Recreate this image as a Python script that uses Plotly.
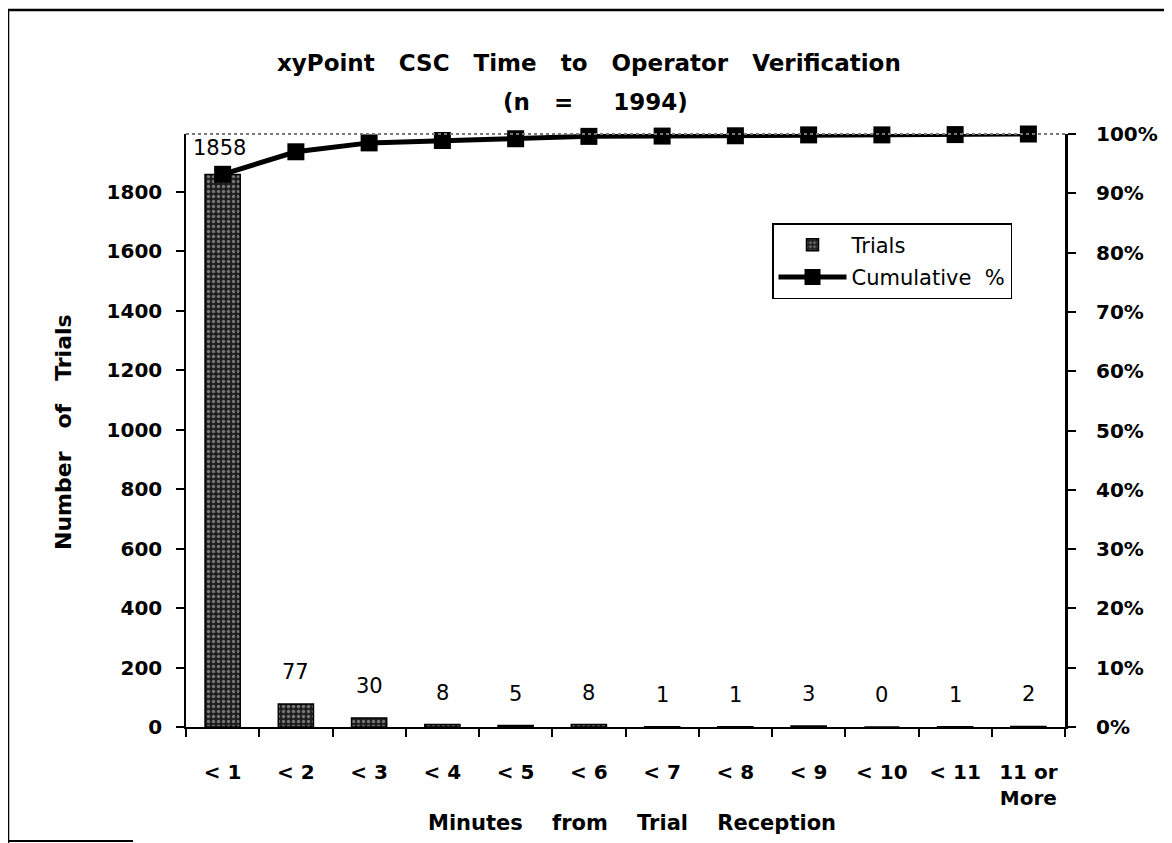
import plotly.graph_objects as go

# chart data
categories = ["< 1", "< 2", "< 3", "< 4", "< 5", "< 6", "< 7", "< 8", "< 9", "< 10", "< 11", "11 or<br>More"]
trials = [1858, 77, 30, 8, 5, 8, 1, 1, 3, 0, 1, 2]
cumulative_pct = [93.2, 97.0, 98.5, 98.9, 99.2, 99.6, 99.65, 99.7, 99.85, 99.85, 99.9, 100.0]
n_total = 1994
left_ticks = [0, 200, 400, 600, 800, 1000, 1200, 1400, 1600, 1800]
right_ticks = [0, 10, 20, 30, 40, 50, 60, 70, 80, 90, 100]

# page is 1172x843, the html body adds an 8px margin
OFF = 8
W, H = 1172 - OFF, 843 - OFF
# plot area in page pixels
L, R, T, B = 186, 1065, 134, 727
FONT = "DejaVu Sans, Verdana, sans-serif"
SP = "\u00a0"


def px_x(px):
    return (px - L) / (R - L)


def px_y(py):
    return (B - py) / (B - T)


def spaced(words, n):
    return (SP * n).join(words)


fig = go.Figure()

fig.add_trace(go.Bar(
    x=categories, y=trials, name="Trials", legendgroup="a",
    marker=dict(
        color="#444444",
        line=dict(color="black", width=1.5),
        pattern=dict(shape=".", bgcolor="#1e1e1e", fgcolor="#cfcfcf", size=5, solidity=0.35),
    ),
    yaxis="y",
))

fig.add_trace(go.Scatter(
    x=categories, y=cumulative_pct, name="Cumulative" + SP * 2 + "%", legendgroup="b",
    mode="lines+markers",
    line=dict(color="black", width=5),
    marker=dict(symbol="square", size=17, color="black"),
    cliponaxis=False,
    yaxis="y2",
))

annotations = []
# value labels above the bars
for i, (c, v) in enumerate(zip(categories, trials)):
    annotations.append(dict(
        x=c, y=v, xref="x", yref="y", text=str(v), showarrow=False,
        yanchor="middle", yshift=26 if i == 0 else 32, xshift=-3 if i == 0 else 0,
        font=dict(family=FONT, size=21, color="black"),
    ))

# title, two lines
annotations.append(dict(
    x=px_x(589), y=px_y(63), xref="paper", yref="paper", showarrow=False,
    xanchor="center", yanchor="middle",
    text="<b>" + spaced(["xyPoint", "CSC", "Time", "to", "Operator", "Verification"], 3) + "</b>",
    font=dict(family=FONT, size=23, color="black"),
))
annotations.append(dict(
    x=px_x(595), y=px_y(102), xref="paper", yref="paper", showarrow=False,
    xanchor="center", yanchor="middle",
    text="<b>(n" + SP * 3 + "=" + SP * 5 + str(n_total) + ")</b>",
    font=dict(family=FONT, size=23, color="black"),
))
# axis titles
annotations.append(dict(
    x=px_x(632), y=px_y(823), xref="paper", yref="paper", showarrow=False,
    xanchor="center", yanchor="middle",
    text="<b>" + spaced(["Minutes", "from", "Trial", "Reception"], 4) + "</b>",
    font=dict(family=FONT, size=21, color="black"),
))
annotations.append(dict(
    x=px_x(63), y=px_y(432), xref="paper", yref="paper", showarrow=False,
    xanchor="center", yanchor="middle",
    text="<b>" + spaced(["Number", "of", "Trials"], 3) + "</b>", textangle=-90,
    font=dict(family=FONT, size=22, color="black"),
))

shapes = [
    # dotted top edge of the plot area
    dict(type="line", xref="paper", yref="paper", x0=0, x1=1, y0=1, y1=1,
         line=dict(color="#777777", width=2, dash="dot")),
    # outer frame (partly cropped in the original)
    dict(type="line", xref="paper", yref="paper", x0=px_x(8), x1=px_x(1180), y0=px_y(10), y1=px_y(10),
         line=dict(color="black", width=2.5)),
    dict(type="line", xref="paper", yref="paper", x0=px_x(8), x1=px_x(8), y0=px_y(10), y1=px_y(850),
         line=dict(color="black", width=2.5)),
    dict(type="line", xref="paper", yref="paper", x0=px_x(8), x1=px_x(133), y0=px_y(841), y1=px_y(841),
         line=dict(color="black", width=2)),
]

tick_font = dict(family=FONT, size=20, color="black", weight="bold")

fig.update_layout(
    width=W, height=H,
    margin=dict(l=L - OFF, r=W - (R - OFF), t=T - OFF, b=H - (B - OFF), autoexpand=False),
    paper_bgcolor="white", plot_bgcolor="white",
    font=dict(family=FONT, size=20, color="black"),
    bargap=0.52,
    showlegend=True,
    legend=dict(
        x=px_x(772), y=px_y(223), xanchor="left", yanchor="top",
        bgcolor="white", bordercolor="black", borderwidth=1.5,
        font=dict(family=FONT, size=21, color="black"),
        itemwidth=68, tracegroupgap=2, traceorder="grouped",
    ),
    xaxis=dict(
        range=[-0.5, len(categories) - 0.5],
        showline=True, linecolor="black", linewidth=2,
        ticks="outside", ticklen=8, tickwidth=1.5, tickcolor="black",
        tickson="boundaries", showgrid=False, zeroline=False,
        tickfont=tick_font, ticklabelstandoff=26,
        fixedrange=True,
    ),
    yaxis=dict(
        range=[0, n_total], tickvals=left_ticks,
        showline=True, linecolor="black", linewidth=1.5,
        ticks="outside", ticklen=8, tickwidth=1.5, tickcolor="black",
        showgrid=False, zeroline=False,
        tickfont=tick_font, ticklabelstandoff=10,
    ),
    yaxis2=dict(
        range=[0, 100], tickvals=right_ticks,
        ticktext=["%d%%" % t for t in right_ticks],
        overlaying="y", side="right",
        showline=True, linecolor="black", linewidth=3,
        ticks="outside", ticklen=8, tickwidth=1.5, tickcolor="black",
        showgrid=False, zeroline=False,
        tickfont=tick_font, ticklabelstandoff=16,
    ),
    annotations=annotations,
    shapes=shapes,
)

fig.write_html("out.html")
